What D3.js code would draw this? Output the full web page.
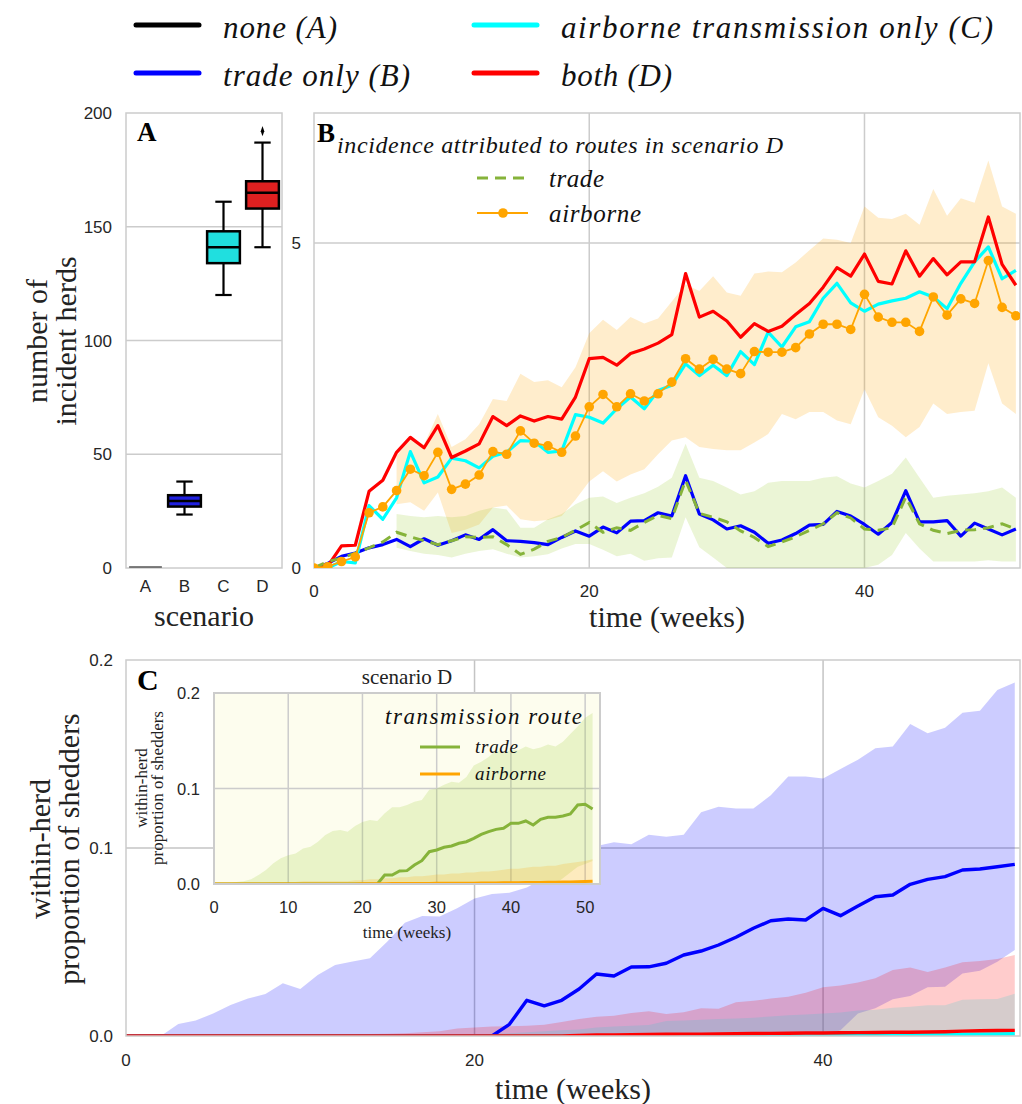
<!DOCTYPE html>
<html>
<head>
<meta charset="utf-8">
<script src="https://cdn.jsdelivr.net/npm/d3@7"></script>
<style>
  body { margin: 0; background: #fff; }
  svg { display: block; }
</style>
</head>
<body>
<svg id="fig" width="1022" height="1104"></svg>
<script>
// ---------- data ----------
const weeks = d3.range(52);

// panel A: number of incident herds per scenario (box summary)
const scenarios = ['A', 'B', 'C', 'D'];
const boxLow    = [0, 23.5, 120, 141];
const boxQ1     = [0, 27,   134, 158];
const boxMedian = [0, 29.5, 141, 165];
const boxQ3     = [0, 32,   148, 170];
const boxHigh   = [0, 38,   161, 187];
const boxOutliers = [[], [], [], [192]];

// panel B: weekly incidence
const incB = [0, 0.07, 0.18, 0.23, 0.31, 0.36, 0.44, 0.33, 0.45, 0.35,
  0.42, 0.51, 0.44, 0.59, 0.42, 0.41, 0.39, 0.36, 0.47, 0.57,
  0.49, 0.63, 0.54, 0.72, 0.73, 0.85, 0.80, 1.42, 0.83, 0.74,
  0.60, 0.65, 0.55, 0.38, 0.43, 0.53, 0.66, 0.67, 0.87, 0.80,
  0.67, 0.52, 0.70, 1.19, 0.71, 0.71, 0.73, 0.49, 0.69, 0.60, 0.51, 0.60];
const incC = [0, 0, 0.10, 0.08, 0.96, 0.75, 1.08, 1.79, 1.31, 1.40,
  1.69, 1.65, 1.54, 1.72, 1.78, 1.96, 1.95, 1.78, 1.80, 2.36,
  2.32, 2.23, 2.45, 2.63, 2.45, 2.73, 2.81, 3.14, 2.96, 3.12,
  2.96, 3.33, 3.13, 3.63, 3.40, 3.71, 3.79, 4.15, 4.38, 4.08,
  3.95, 4.06, 4.11, 4.15, 4.25, 4.17, 3.99, 4.38, 4.71, 4.94, 4.45, 4.58];
const incD = [0, 0.03, 0.34, 0.35, 1.18, 1.35, 1.78, 2.01, 1.85, 2.19,
  1.70, 1.80, 1.91, 2.33, 2.19, 2.34, 2.26, 2.33, 2.29, 2.63,
  3.22, 3.24, 3.12, 3.30, 3.37, 3.46, 3.59, 4.53, 3.86, 3.95,
  3.80, 3.55, 3.76, 3.64, 3.72, 3.90, 4.07, 4.32, 4.62, 4.49,
  4.83, 4.41, 4.37, 4.88, 4.49, 4.76, 4.51, 4.71, 4.71, 5.40, 4.67, 4.35];
// scenario D split by route
const incDTrade = [0, 0.10, 0.15, 0.23, 0.31, 0.40, 0.55, 0.48, 0.42, 0.36,
  0.42, 0.48, 0.47, 0.48, 0.36, 0.21, 0.29, 0.41, 0.47, 0.58,
  0.70, 0.55, 0.62, 0.58, 0.70, 0.81, 0.76, 1.35, 0.84, 0.78,
  0.71, 0.57, 0.47, 0.33, 0.40, 0.48, 0.58, 0.68, 0.85, 0.77,
  0.60, 0.58, 0.62, 1.09, 0.68, 0.58, 0.53, 0.58, 0.59, 0.62, 0.68, 0.60];
const incDAir = [0, 0.02, 0.10, 0.17, 0.85, 0.94, 1.19, 1.52, 1.42, 1.78,
  1.21, 1.29, 1.43, 1.79, 1.75, 2.11, 1.92, 1.88, 1.78, 2.03,
  2.48, 2.67, 2.48, 2.68, 2.57, 2.68, 2.86, 3.22, 3.06, 3.21,
  3.06, 2.99, 3.33, 3.32, 3.32, 3.39, 3.60, 3.75, 3.75, 3.67,
  4.21, 3.86, 3.78, 3.78, 3.64, 4.17, 3.89, 4.14, 4.07, 4.73, 4.01, 3.88];
const incDTradeLo = [null, null, null, null, null, null,
  0.31, 0.26, 0.22, 0.20, 0.16, 0.22, 0.26, 0.29, 0.22, 0.16,
  0.18, 0.21, 0.30, 0.37, 0.37, 0.28, 0.18, 0.22, 0.11, 0.15,
  0.16, 0.78, 0.32, 0.16, 0.00, 0.00, 0.00, 0.00, 0.00, 0.00,
  0.00, 0.00, 0.00, 0.00, 0.00, 0.05, 0.20, 0.54, 0.30, 0.10,
  0.10, 0.10, 0.10, 0.12, 0.10, 0.10];
const incDTradeHi = [null, null, null, null, null, null,
  0.83, 0.80, 0.78, 0.80, 0.78, 0.80, 0.88, 0.93, 0.90, 0.62,
  0.62, 0.75, 0.83, 0.98, 1.08, 1.10, 1.00, 1.08, 1.15, 1.25,
  1.39, 1.91, 1.39, 1.34, 1.24, 1.13, 1.18, 1.31, 1.34, 1.34,
  1.34, 1.39, 1.41, 1.30, 1.24, 1.34, 1.45, 1.70, 1.39, 1.08,
  1.11, 1.13, 1.15, 1.18, 1.24, 1.08];
const incDAirLo = [null, null, null, null, null, null,
  0.98, 1.01, 0.88, 1.16, 0.54, 0.59, 0.67, 0.93, 0.96, 0.75,
  0.72, 0.74, 0.80, 1.05, 1.33, 1.49, 1.33, 1.44, 1.52, 1.75,
  1.96, 2.01, 1.86, 1.83, 1.81, 1.81, 1.93, 2.06, 2.37, 2.29,
  2.40, 2.40, 2.27, 2.21, 2.75, 2.32, 2.19, 2.01, 2.17, 2.53,
  2.37, 2.40, 2.42, 3.15, 2.53, 2.37];
const incDAirHi = [null, null, null, null, null, null,
  1.72, 2.00, 1.90, 2.37, 1.86, 1.98, 2.21, 2.60, 2.57, 2.99,
  2.86, 2.89, 2.78, 3.09, 3.61, 3.82, 3.66, 3.86, 3.76, 3.84,
  4.10, 4.36, 4.26, 4.49, 4.24, 4.19, 4.53, 4.56, 4.55, 4.70,
  4.89, 5.07, 5.05, 5.00, 5.56, 5.39, 5.37, 5.45, 5.28, 5.83,
  5.42, 5.69, 5.62, 6.27, 5.56, 5.45];

// panel C: within-herd proportion of shedders
const shedB = [0, 0, 0, 0, 0, 0, 0, 0, 0, 0, 0, 0, 0, 0, 0, 0, 0, 0, 0, 0, 0, 0,
  0.0062, 0.019, 0.016, 0.019, 0.025, 0.033, 0.0319, 0.0367, 0.0368, 0.0387,
  0.0431, 0.0452, 0.0484, 0.0525, 0.0573, 0.0613, 0.0622, 0.0617, 0.0679, 0.064,
  0.0692, 0.0741, 0.075, 0.0807, 0.0833, 0.0848, 0.0883, 0.0888, 0.09, 0.0913];
const shedBLo = [0, 0, 0, 0, 0, 0, 0, 0, 0, 0, 0, 0, 0, 0, 0, 0, 0, 0, 0, 0,
  0, 0, 0, 0, 0, 0, 0, 0, 0, 0, 0, 0, 0, 0, 0, 0, 0, 0, 0, 0, 0,
  0.003, 0.012, 0.0147, 0.0195, 0.0213, 0.0259, 0.0262, 0.0333, 0.0347, 0.0395, 0.0457];
const shedBHi = [0, 0, 0, 0.0064, 0.0082, 0.012, 0.0165, 0.020, 0.0223, 0.028,
  0.025, 0.0325, 0.0378, 0.0396, 0.0413, 0.0502, 0.0603, 0.0638, 0.0635, 0.0679,
  0.0732, 0.0755, 0.0762, 0.079, 0.084, 0.089, 0.095, 0.101, 0.103, 0.102,
  0.107, 0.106, 0.107, 0.119, 0.122, 0.121, 0.121, 0.128, 0.138, 0.138,
  0.137, 0.142, 0.147, 0.153, 0.154, 0.166, 0.161, 0.164, 0.172, 0.173, 0.184, 0.188];
const shedC = [0, 0, 0, 0, 0, 0, 0, 0, 0, 0, 0, 0, 0, 0, 0, 0, 0, 0, 0, 0,
  0, 0, 0, 0, 0, 0, 0, 0, 0, 0, 0, 0, 0, 0, 0, 0, 0, 0, 0, 0, 0,
  0.0002, 0.0003, 0.0004, 0.0005, 0.0006, 0.0007, 0.0008, 0.0009, 0.001, 0.0011, 0.0012];
const shedCHi = [0, 0, 0, 0, 0, 0, 0, 0, 0, 0, 0, 0, 0, 0, 0, 0, 0, 0, 0, 0,
  0.0005, 0.001, 0.0015, 0.002, 0.0025, 0.003, 0.0035, 0.0045, 0.005, 0.0055,
  0.0058, 0.008, 0.0083, 0.0087, 0.009, 0.0093, 0.0097, 0.0104, 0.011, 0.0115,
  0.012, 0.0125, 0.0136, 0.014, 0.015, 0.0155, 0.0163, 0.0163, 0.0193, 0.0195, 0.0197, 0.0225];
const shedD = [0, 0, 0, 0, 0, 0, 0, 0, 0, 0, 0, 0, 0, 0, 0, 0, 0, 0, 0, 0, 0, 0, 0, 0, 0, 0,
  0.0003, 0.0005, 0.0006, 0.0007, 0.0008, 0.0009, 0.001, 0.001, 0.0011, 0.0012,
  0.0013, 0.0014, 0.0015, 0.0016, 0.0016, 0.0017, 0.0018, 0.0019, 0.002, 0.002,
  0.0021, 0.0023, 0.0026, 0.0028, 0.0029, 0.003];
const shedDHi = [0, 0, 0, 0, 0, 0, 0, 0, 0, 0, 0, 0, 0,
  0.0005, 0.001, 0.0012, 0.0015, 0.002, 0.0025, 0.004, 0.0045, 0.005, 0.0052,
  0.0055, 0.006, 0.0075, 0.009, 0.0102, 0.0108, 0.0122, 0.0131, 0.0117, 0.0126,
  0.0147, 0.0145, 0.0179, 0.0188, 0.0199, 0.0209, 0.023, 0.0259, 0.0268, 0.0285,
  0.0307, 0.0351, 0.0364, 0.0341, 0.0365, 0.0392, 0.0399, 0.041, 0.0431];
const zeros = weeks.map(() => 0);

// inset: scenario D by transmission route
const routeTrade = [0, 0, 0, 0, 0, 0, 0, 0, 0, 0, 0, 0, 0, 0, 0, 0, 0, 0, 0, 0, 0, 0, 0,
  0.0094, 0.0094, 0.0136, 0.014, 0.0199, 0.0244, 0.0338, 0.0356, 0.0384, 0.0398,
  0.0426, 0.0443, 0.0478, 0.052, 0.0548, 0.0572, 0.0583, 0.0635, 0.0635, 0.066,
  0.0618, 0.0677, 0.0698, 0.0698, 0.0712, 0.0733, 0.0827, 0.0834, 0.0785];
const routeTradeLo = [0, 0, 0, 0, 0, 0, 0, 0, 0, 0, 0, 0, 0, 0, 0, 0, 0, 0, 0, 0,
  0, 0, 0, 0, 0, 0, 0, 0, 0, 0, 0, 0, 0, 0, 0, 0, 0, 0, 0, 0, 0, 0, 0, 0, 0, 0, 0,
  0.006, 0.012, 0.018, 0.021, 0.024];
const routeTradeHi = [0, 0.0005, 0.001, 0.002, 0.003, 0.005, 0.0094, 0.0146, 0.0216, 0.027,
  0.0302, 0.032, 0.0373, 0.039, 0.0443, 0.0513, 0.0555, 0.0565, 0.0548, 0.0607,
  0.065, 0.067, 0.066, 0.074, 0.0803, 0.0803, 0.0827, 0.0862, 0.088, 0.0987,
  0.100, 0.104, 0.107, 0.106, 0.112, 0.124, 0.128, 0.133, 0.140, 0.138,
  0.140, 0.140, 0.144, 0.141, 0.143, 0.146, 0.144, 0.149, 0.157, 0.165, 0.174, 0.179];
const routeAir = [0, 0, 0, 0, 0, 0, 0, 0, 0, 0, 0, 0, 0, 0, 0, 0, 0, 0, 0, 0,
  0.0002, 0.0002, 0.0003, 0.0003, 0.0004, 0.0004, 0.0005, 0.0005, 0.0006, 0.0006,
  0.0007, 0.0007, 0.0008, 0.0008, 0.0009, 0.0009, 0.001, 0.001, 0.0011, 0.0012,
  0.0013, 0.0014, 0.0015, 0.0016, 0.0017, 0.0018, 0.0019, 0.002, 0.0022, 0.0024, 0.0026, 0.0028];
const routeAirHi = [0, 0, 0, 0, 0, 0, 0.001, 0.001, 0.002, 0.002,
  0.002, 0.002, 0.003, 0.003, 0.003, 0.003, 0.003, 0.003, 0.003, 0.004,
  0.004, 0.005, 0.005, 0.006, 0.006, 0.007, 0.007, 0.008, 0.008, 0.009,
  0.010, 0.010, 0.011, 0.011, 0.012, 0.012, 0.013, 0.013, 0.014, 0.015,
  0.016, 0.016, 0.017, 0.018, 0.018, 0.019, 0.019, 0.021, 0.022, 0.023, 0.024, 0.026];

// tick values
const ticksA = [0, 50, 100, 150, 200];
const ticksBy = [0, 5];
const ticksWeeks = [0, 20, 40];
const ticksCy = [0, 0.1, 0.2];
const ticksInsetX = [0, 10, 20, 30, 40, 50];
const ticksInsetY = [0, 0.1, 0.2];

// ---------- style ----------
const SERIF = '"Liberation Serif", "Times New Roman", serif';
const SANS = '"Liberation Sans", Arial, sans-serif';
const GRID = '#cccccc';
const TICK = '#262626';
const TRADE = '#86b33a';

const svg = d3.select('#fig');
const defs = svg.append('defs');

function clipRect(id, x0, y0, x1, y1) {
  defs.append('clipPath').attr('id', id).append('rect')
    .attr('x', x0).attr('y', y0).attr('width', x1 - x0).attr('height', y1 - y0);
  return 'url(#' + id + ')';
}

function hline(g, x0, x1, y, color, w) {
  g.append('line').attr('x1', x0).attr('x2', x1).attr('y1', y).attr('y2', y)
    .attr('stroke', color).attr('stroke-width', w);
}
function vline(g, x, y0, y1, color, w) {
  g.append('line').attr('x1', x).attr('x2', x).attr('y1', y0).attr('y2', y1)
    .attr('stroke', color).attr('stroke-width', w);
}

function label(g, txt, x, y, opts) {
  const t = g.append('text').attr('x', x).attr('y', y).text(txt)
    .attr('font-family', opts.family || SERIF)
    .attr('font-size', opts.size)
    .attr('fill', opts.fill || '#111')
    .attr('text-anchor', opts.anchor || 'start');
  if (opts.italic) t.attr('font-style', 'italic');
  if (opts.bold) t.attr('font-weight', 'bold');
  if (opts.len) t.attr('textLength', opts.len).attr('lengthAdjust', 'spacing');
  if (opts.rotate) t.attr('x', 0).attr('y', 0)
    .attr('transform', `translate(${x},${y}) rotate(-90)`);
  return t;
}

const band = (x, y, lo, hi) => d3.area()
  .defined((d, i) => lo[i] != null && hi[i] != null)
  .x(d => x(d)).y0((d, i) => y(lo[i])).y1((d, i) => y(hi[i]));
const line = (x, y, v) => d3.line().x(d => x(d)).y((d, i) => y(v[i]));

// ---------- top legend ----------
const legendItems = [
  { txt: 'none (A)', color: '#000000', x: 136, y: 25, len: 114 },
  { txt: 'trade only (B)', color: '#0000ff', x: 136, y: 73, len: 187 },
  { txt: 'airborne transmission only  (C)', color: '#00ffff', x: 474, y: 25, len: 432 },
  { txt: 'both (D)', color: '#ff0000', x: 474, y: 73, len: 111 }
];
const gLeg = svg.append('g');
legendItems.forEach(it => {
  gLeg.append('line').attr('x1', it.x).attr('x2', it.x + 63).attr('y1', it.y).attr('y2', it.y)
    .attr('stroke', it.color).attr('stroke-width', 5).attr('stroke-linecap', 'round');
  label(gLeg, it.txt, it.x + 87, it.y + 13, { size: 31, italic: true, len: it.len });
});

// ---------- panel A ----------
const A = { x0: 126, x1: 282, y0: 113, y1: 568 };
const xA = d3.scaleBand().domain(scenarios).range([A.x0, A.x1]);
const yA = d3.scaleLinear().domain([0, 200]).range([A.y1, A.y0]);
const gA = svg.append('g');
ticksA.forEach(t => {
  if (t > 0 && t < 200) hline(gA, A.x0, A.x1, yA(t), GRID, 1.5);
  label(gA, t, A.x0 - 14, yA(t) + 6, { family: SANS, size: 17, fill: TICK, anchor: 'end' });
});
gA.append('rect').attr('x', A.x0).attr('y', A.y0).attr('width', A.x1 - A.x0).attr('height', A.y1 - A.y0)
  .attr('fill', 'none').attr('stroke', GRID).attr('stroke-width', 1.5);

const boxFill = ['#555555', '#2020df', '#20dfdf', '#df2020'];
const bw = xA.bandwidth() * 0.84;
scenarios.forEach((s, i) => {
  const cx = xA(s) + xA.bandwidth() / 2;
  const g = gA.append('g');
  if (boxHigh[i] === 0) {
    hline(g, cx - bw / 2, cx + bw / 2, yA(0) - 1, '#555', 1.5);
    return;
  }
  vline(g, cx, yA(boxQ3[i]), yA(boxHigh[i]), '#000', 2.2);
  vline(g, cx, yA(boxQ1[i]), yA(boxLow[i]), '#000', 2.2);
  hline(g, cx - bw / 4, cx + bw / 4, yA(boxHigh[i]), '#000', 2.2);
  hline(g, cx - bw / 4, cx + bw / 4, yA(boxLow[i]), '#000', 2.2);
  g.append('rect').attr('x', cx - bw / 2).attr('y', yA(boxQ3[i]))
    .attr('width', bw).attr('height', yA(boxQ1[i]) - yA(boxQ3[i]))
    .attr('fill', boxFill[i]).attr('stroke', '#000').attr('stroke-width', 2.5);
  hline(g, cx - bw / 2, cx + bw / 2, yA(boxMedian[i]), '#000', 2.5);
  boxOutliers[i].forEach(o => {
    g.append('path').attr('d', d3.symbol(d3.symbolDiamond, 30)())
      .attr('transform', `translate(${cx},${yA(o)}) scale(0.6,1)`).attr('fill', '#000');
  });
});
scenarios.forEach(s => label(gA, s, xA(s) + xA.bandwidth() / 2, 592,
  { family: SANS, size: 17, fill: TICK, anchor: 'middle' }));
label(gA, 'A', 137, 141, { size: 27, bold: true, fill: '#000' });
label(gA, 'scenario', (A.x0 + A.x1) / 2, 626, { size: 30, anchor: 'middle', fill: '#222' });
label(gA, 'number of', 47, 341, { size: 30, anchor: 'middle', rotate: true, fill: '#222' });
label(gA, 'incident herds', 76, 341, { size: 30, anchor: 'middle', rotate: true, fill: '#222' });

// ---------- panel B ----------
const B = { x0: 314, x1: 1020, y0: 113, y1: 568 };
const xB = d3.scaleLinear().domain([0, 51.3]).range([B.x0, B.x1]);
const yB = d3.scaleLinear().domain([0, 7]).range([B.y1, B.y0]);
const gB = svg.append('g');
ticksWeeks.forEach(t => {
  if (t > 0) vline(gB, xB(t), B.y0, B.y1, GRID, 1.5);
  label(gB, t, xB(t), 597, { family: SANS, size: 17, fill: TICK, anchor: 'middle' });
});
ticksBy.forEach(t => {
  if (t > 0) hline(gB, B.x0, B.x1, yB(t), GRID, 1.5);
  label(gB, t, B.x0 - 13, yB(t) + 6, { family: SANS, size: 17, fill: TICK, anchor: 'end' });
});
gB.append('rect').attr('x', B.x0).attr('y', B.y0).attr('width', B.x1 - B.x0).attr('height', B.y1 - B.y0)
  .attr('fill', 'none').attr('stroke', GRID).attr('stroke-width', 1.5);

const plotB = gB.append('g').attr('clip-path', clipRect('clipB', B.x0, B.y0, B.x1, B.y1));
plotB.append('path').datum(weeks).attr('d', band(xB, yB, incDAirLo, incDAirHi))
  .attr('fill', 'orange').attr('fill-opacity', 0.2);
plotB.append('path').datum(weeks).attr('d', band(xB, yB, incDTradeLo, incDTradeHi))
  .attr('fill', 'yellowgreen').attr('fill-opacity', 0.2);
[[incB, '#0000ff'], [incC, '#00ffff'], [incD, '#ff0000']].forEach(([v, c]) => {
  plotB.append('path').datum(weeks).attr('d', line(xB, yB, v))
    .attr('fill', 'none').attr('stroke', c).attr('stroke-width', 3.2).attr('stroke-linejoin', 'round');
});
plotB.append('path').datum(weeks).attr('d', line(xB, yB, incDTrade))
  .attr('fill', 'none').attr('stroke', TRADE).attr('stroke-width', 3).attr('stroke-dasharray', '11,7');
plotB.append('path').datum(weeks).attr('d', line(xB, yB, incDAir))
  .attr('fill', 'none').attr('stroke', 'orange').attr('stroke-width', 1.8);
plotB.selectAll('circle.air').data(weeks).enter().append('circle')
  .attr('cx', d => xB(d)).attr('cy', d => yB(incDAir[d])).attr('r', 4.8).attr('fill', 'orange');

label(gB, 'B', 317, 142, { size: 27, bold: true, fill: '#000' });
label(gB, 'incidence attributed to routes in scenario D', 337, 153, { size: 24, italic: true, len: 446 });
gB.append('line').attr('x1', 477).attr('x2', 528).attr('y1', 178).attr('y2', 178)
  .attr('stroke', TRADE).attr('stroke-width', 3).attr('stroke-dasharray', '11,7');
label(gB, 'trade', 549, 187, { size: 25, italic: true, len: 55 });
hline(gB, 477, 528, 213, 'orange', 1.8);
gB.append('circle').attr('cx', 503).attr('cy', 213).attr('r', 4.8).attr('fill', 'orange');
label(gB, 'airborne', 549, 222, { size: 25, italic: true, len: 92 });
label(gB, 'time (weeks)', (B.x0 + B.x1) / 2, 627, { size: 30, anchor: 'middle', fill: '#222' });

// ---------- panel C ----------
const C = { x0: 126, x1: 1020, y0: 660, y1: 1036 };
const xC = d3.scaleLinear().domain([0, 51.3]).range([C.x0, C.x1]);
const yC = d3.scaleLinear().domain([0, 0.2]).range([C.y1, C.y0]);
const gC = svg.append('g');
ticksWeeks.forEach(t => {
  if (t > 0) vline(gC, xC(t), C.y0, C.y1, '#c4c4c4', 1.5);
  label(gC, t, xC(t), 1066, { family: SANS, size: 17, fill: TICK, anchor: 'middle' });
});
ticksCy.forEach(t => {
  if (t > 0 && t < 0.2) hline(gC, C.x0, C.x1, yC(t), '#c4c4c4', 1.5);
  label(gC, t.toFixed(1), C.x0 - 13, yC(t) + 6, { family: SANS, size: 17, fill: TICK, anchor: 'end' });
});
const plotC = gC.append('g').attr('clip-path', clipRect('clipC', C.x0, C.y0, C.x1, C.y1));
plotC.append('path').datum(weeks).attr('d', band(xC, yC, shedBLo, shedBHi))
  .attr('fill', 'blue').attr('fill-opacity', 0.2);
plotC.append('path').datum(weeks).attr('d', band(xC, yC, zeros, shedCHi))
  .attr('fill', 'cyan').attr('fill-opacity', 0.2);
plotC.append('path').datum(weeks).attr('d', band(xC, yC, zeros, shedDHi))
  .attr('fill', 'red').attr('fill-opacity', 0.2);
[[shedB, '#0000ff'], [shedC, '#00ffff'], [shedD, '#ff0000']].forEach(([v, c]) => {
  plotC.append('path').datum(weeks).attr('d', line(xC, yC, v))
    .attr('fill', 'none').attr('stroke', c).attr('stroke-width', 3.4).attr('stroke-linejoin', 'round');
});
gC.append('rect').attr('x', C.x0).attr('y', C.y0).attr('width', C.x1 - C.x0).attr('height', C.y1 - C.y0)
  .attr('fill', 'none').attr('stroke', GRID).attr('stroke-width', 1.5);
label(gC, 'C', 137, 690, { size: 30, bold: true, fill: '#000' });
label(gC, 'time (weeks)', (C.x0 + C.x1) / 2, 1099, { size: 30, anchor: 'middle', fill: '#222' });
label(gC, 'within-herd', 50, 849, { size: 30, anchor: 'middle', rotate: true, fill: '#222' });
label(gC, 'proportion of shedders', 79, 849, { size: 30, anchor: 'middle', rotate: true, fill: '#222' });

// ---------- inset ----------
const I = { x0: 214, x1: 600, y0: 693, y1: 884 };
const xI = d3.scaleLinear().domain([0, 52]).range([I.x0, I.x1]);
const yI = d3.scaleLinear().domain([0, 0.2]).range([I.y1, I.y0]);
const gI = svg.append('g');
gI.append('rect').attr('x', I.x0).attr('y', I.y0).attr('width', I.x1 - I.x0).attr('height', I.y1 - I.y0)
  .attr('fill', '#fdfdee');
ticksInsetX.forEach(t => {
  if (t > 0) vline(gI, xI(t), I.y0, I.y1, GRID, 1.5);
  label(gI, t, xI(t), 913, { family: SANS, size: 16.5, fill: TICK, anchor: 'middle' });
});
ticksInsetY.forEach(t => {
  if (t > 0 && t < 0.2) hline(gI, I.x0, I.x1, yI(t), GRID, 1.5);
  label(gI, t.toFixed(1), I.x0 - 14, yI(t) + 6, { family: SANS, size: 16.5, fill: TICK, anchor: 'end' });
});
const plotI = gI.append('g').attr('clip-path', clipRect('clipI', I.x0, I.y0, I.x1, I.y1));
plotI.append('path').datum(weeks).attr('d', band(xI, yI, routeTradeLo, routeTradeHi))
  .attr('fill', 'yellowgreen').attr('fill-opacity', 0.2);
plotI.append('path').datum(weeks).attr('d', band(xI, yI, zeros, routeAirHi))
  .attr('fill', 'orange').attr('fill-opacity', 0.2);
plotI.append('path').datum(weeks).attr('d', line(xI, yI, routeTrade))
  .attr('fill', 'none').attr('stroke', TRADE).attr('stroke-width', 3);
plotI.append('path').datum(weeks).attr('d', line(xI, yI, routeAir))
  .attr('fill', 'none').attr('stroke', 'orange').attr('stroke-width', 3);
gI.append('rect').attr('x', I.x0).attr('y', I.y0).attr('width', I.x1 - I.x0).attr('height', I.y1 - I.y0)
  .attr('fill', 'none').attr('stroke', GRID).attr('stroke-width', 2);
label(gI, 'scenario D', (I.x0 + I.x1) / 2, 684, { size: 21, anchor: 'middle', fill: '#222' });
label(gI, 'time (weeks)', (I.x0 + I.x1) / 2, 938, { size: 17, anchor: 'middle', fill: '#222' });
label(gI, 'within-herd', 147, 788, { size: 17, anchor: 'middle', rotate: true, fill: '#222' });
label(gI, 'proportion of shedders', 163, 788, { size: 17, anchor: 'middle', rotate: true, fill: '#222' });
label(gI, 'transmission route', 385, 724, { size: 23, italic: true, len: 197 });
hline(gI, 420, 460, 747, TRADE, 3);
label(gI, 'trade', 475, 753, { size: 19, italic: true, len: 43 });
hline(gI, 420, 460, 774, 'orange', 3);
label(gI, 'airborne', 475, 780, { size: 19, italic: true, len: 71 });
</script>
</body>
</html>
